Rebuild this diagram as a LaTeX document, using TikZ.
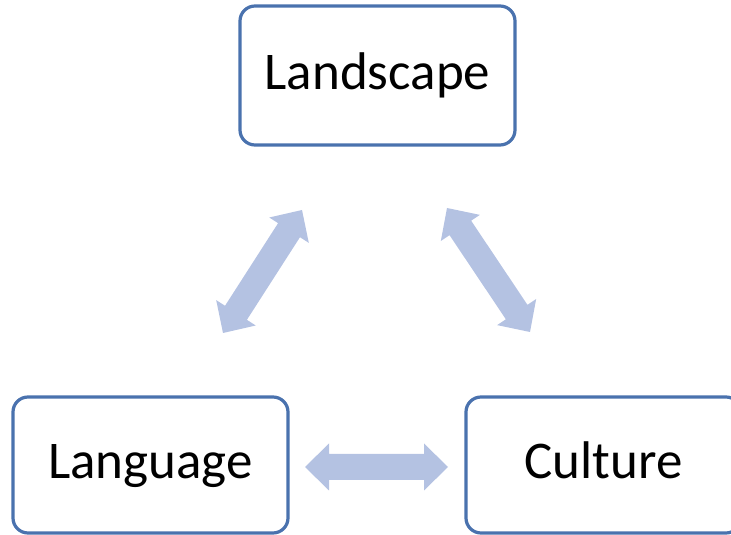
\documentclass[tikz,border=0pt]{standalone}
\usepackage{fontspec}
\setmainfont{Carlito}
\usetikzlibrary{calc}
\definecolor{boxline}{RGB}{74,114,174}
\definecolor{arrowblue}{RGB}{180,194,226}
\tikzset{
  topic/.style={draw=boxline, line width=3.2pt, rounded corners=15pt, fill=white,
    inner sep=0pt, text height=38pt, text depth=10pt,
    font=\fontsize{53}{60}\selectfont, text=black},
  arrowfill/.style={fill=arrowblue, draw=none}
}
\newcommand\hl{24pt}
\newcommand\hw{23.5pt}
\newcommand\sw{13pt}
\newcommand\twoway[2]{%
  \fill[arrowfill] (#1)
    -- ($(#1)!\hl!(#2)!\hw!90:(#2)$)
    -- ($(#1)!\hl!(#2)!\sw!90:(#2)$)
    -- ($(#2)!\hl!(#1)!\sw!-90:(#1)$)
    -- ($(#2)!\hl!(#1)!\hw!-90:(#1)$)
    -- (#2)
    -- ($(#2)!\hl!(#1)!\hw!90:(#1)$)
    -- ($(#2)!\hl!(#1)!\sw!90:(#1)$)
    -- ($(#1)!\hl!(#2)!\sw!-90:(#2)$)
    -- ($(#1)!\hl!(#2)!\hw!-90:(#2)$)
    -- cycle;}
\begin{document}
\begin{tikzpicture}[x=1pt,y=1pt]
  \useasboundingbox (0,0) rectangle (731,535);
  \node[topic, minimum width=275pt, minimum height=139pt] (land) at (377.5,459.5) {Landscape};
  \node[topic, minimum width=275pt, minimum height=136pt] (lang) at (150.5,70) {Language};
  \node[topic, minimum width=275pt, minimum height=136pt] (cult) at (603.5,70) {Culture};
  \coordinate (tlA) at (223,202);
  \coordinate (tlB) at (302,325);
  \coordinate (trA) at (447,327);
  \coordinate (trB) at (530,203);
  \coordinate (hA) at (305,68);
  \coordinate (hB) at (448,68);
  \twoway{tlA}{tlB}
  \twoway{trA}{trB}
  \twoway{hA}{hB}
\end{tikzpicture}
\end{document}
